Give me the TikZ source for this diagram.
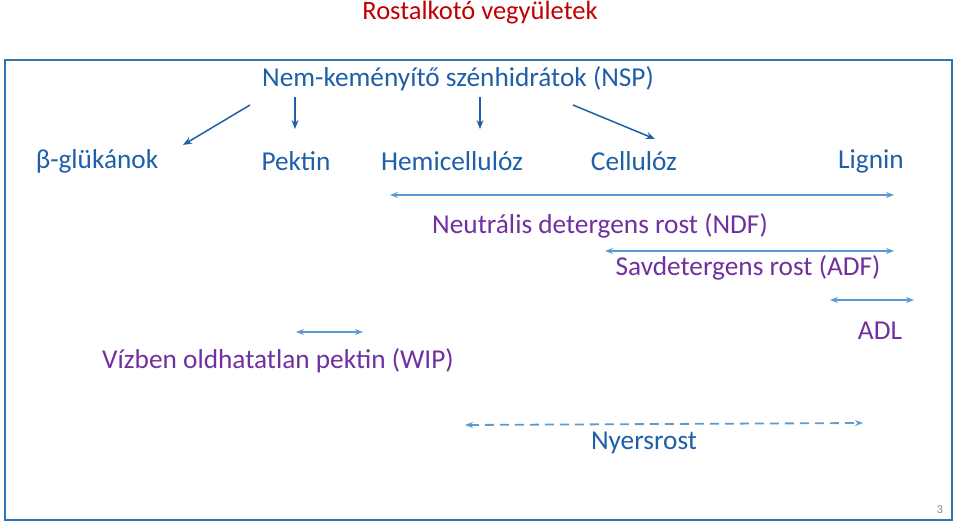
\documentclass[tikz,border=0pt]{standalone}
\usepackage{fontspec}
\setmainfont{Carlito}
\usetikzlibrary{arrows.meta}
\definecolor{frameblue}{HTML}{2E75B6}
\definecolor{tblue}{HTML}{1F5FA8}
\definecolor{lblue}{HTML}{5B9BD5}
\definecolor{purp}{HTML}{7030A0}
\definecolor{dred}{HTML}{C00000}
\tikzset{
 lbl/.style={font=\fontsize{27.3}{30}\selectfont, inner sep=1pt},
 blab/.style={lbl,text=tblue},
 plab/.style={lbl,text=purp},
 darr/.style={lblue,line width=1.8pt,{Stealth[length=8pt,width=6pt]}-{Stealth[length=8pt,width=6pt]}},
 sarr/.style={tblue,line width=1.5pt,-{Stealth[length=9pt,width=7pt]}},
}
\begin{document}
\begin{tikzpicture}[x=1pt,y=-1pt]
\useasboundingbox (0,0) rectangle (959,524);
\draw[frameblue,line width=1.6pt] (5,60) rectangle (952,520);
\node[lbl,text=dred,font=\fontsize{26.5}{30}\selectfont] (title) at (480,13) {Rostalkotó vegyületek};
\node[blab] (nsp) at (458,79) {Nem-keményítő szénhidrátok (NSP)};
\node[blab] (bg) at (97,161) {β-glükánok};
\node[blab] (pek) at (296,161) {Pektin};
\node[blab] (hem) at (452,161) {Hemicellulóz};
\node[blab] (cel) at (634,161) {Cellulóz};
\node[blab] (lig) at (871,161) {Lignin};
\coordinate (a1s) at (250,105); \coordinate (a1e) at (183,145);
\coordinate (a2s) at (295,97); \coordinate (a2e) at (295,129);
\coordinate (a3s) at (480,97); \coordinate (a3e) at (480,129);
\coordinate (a4s) at (573,105); \coordinate (a4e) at (655,139);
\draw[sarr] (a1s) -- (a1e);
\draw[sarr] (a2s) -- (a2e);
\draw[sarr] (a3s) -- (a3e);
\draw[sarr] (a4s) -- (a4e);
\coordinate (n1) at (390,195); \coordinate (n2) at (894,195);
\draw[darr] (n1) -- (n2);
\node[plab] (ndf) at (600,226) {Neutrális detergens rost (NDF)};
\coordinate (d1) at (605,251); \coordinate (d2) at (894,251);
\draw[darr] (d1) -- (d2);
\node[plab] (adf) at (748,268) {Savdetergens rost (ADF)};
\coordinate (l1) at (830,300); \coordinate (l2) at (914,300);
\draw[darr] (l1) -- (l2);
\node[plab] (adl) at (880,331) {ADL};
\coordinate (w1) at (296,332); \coordinate (w2) at (363,332);
\draw[darr] (w1) -- (w2);
\node[plab] (wip) at (278,361) {Vízben oldhatatlan pektin (WIP)};
\coordinate (c1) at (465,425); \coordinate (c2) at (863,423);
\draw[darr,dashed,dash pattern=on 9pt off 6pt] (c1) -- (c2);
\node[blab] (nyr) at (644,443) {Nyersrost};
\node[font=\fontsize{12}{13}\selectfont,text=gray] (pg) at (940,510) {3};
\end{tikzpicture}
\end{document}
